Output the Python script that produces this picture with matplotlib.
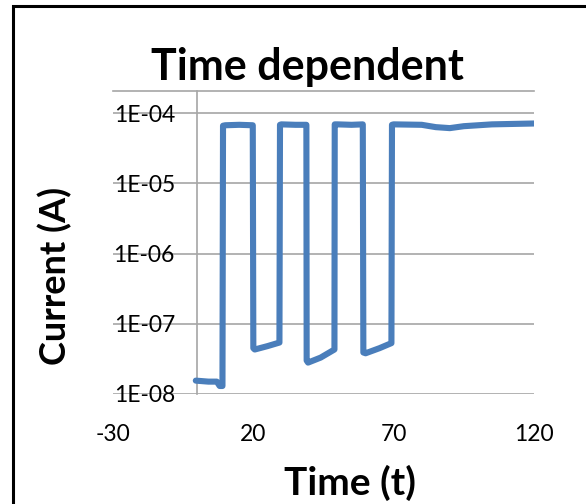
import matplotlib
matplotlib.use("Agg")
import matplotlib.pyplot as plt
from matplotlib.patches import Rectangle
from matplotlib.ticker import FixedLocator, NullLocator

plt.rcParams['font.family'] = ['Lato', 'DejaVu Sans']
plt.rcParams['axes.unicode_minus'] = False

# --- data ---
time_s = [-0.5, 4, 7, 8, 9, 9.2, 10, 15, 19.8, 20, 20.5, 25, 29.3, 29.5, 30, 35, 38.9, 39, 39.5, 44,
          48.9, 49, 50, 55, 59, 59.2, 60, 65, 69.2, 69.4, 70, 80, 85, 90, 95, 105, 120]
current_a = [1.55e-8, 1.5e-8, 1.5e-8, 1.3e-8, 1.3e-8, 6.6e-5, 6.7e-5, 6.8e-5, 6.7e-5, 4.5e-8, 4.3e-8, 4.8e-8,
             5.4e-8, 6.8e-5, 6.9e-5, 6.8e-5, 6.8e-5, 3.0e-8, 2.8e-8, 3.3e-8,
             4.3e-8, 6.9e-5, 6.9e-5, 6.8e-5, 6.9e-5, 3.9e-8, 3.8e-8, 4.5e-8, 5.3e-8, 6.8e-5, 6.9e-5, 6.8e-5,
             6.3e-5, 6.1e-5, 6.5e-5, 6.9e-5, 7.1e-5]

y_ticks = [1e-8, 1e-7, 1e-6, 1e-5, 1e-4]
y_tick_labels = ['1E-08', '1E-07', '1E-06', '1E-05', '1E-04']
x_ticks = [-30, 20, 70, 120]

grid_col = '#a6a6a6'

fig = plt.figure(figsize=(5.86, 5.04), dpi=100)
ax = fig.add_axes([113 / 586, 1 - 394 / 504, 421 / 586, 303 / 504])

ax.plot(time_s, current_a, color='#4a7ebb', lw=4.4, solid_joinstyle='round', solid_capstyle='round', zorder=3)

ax.set_yscale('log')
ax.set_xlim(-30, 120)
ax.set_ylim(1e-8, 2.06e-4)
ax.yaxis.set_major_locator(FixedLocator(y_ticks))
ax.yaxis.set_minor_locator(NullLocator())
ax.set_yticklabels(y_tick_labels)
ax.set_xticks(x_ticks)

ax.grid(axis='y', color=grid_col, lw=1.2)
ax.grid(axis='x', visible=False)

# y axis crosses at t = 0, as in Excel
ax.spines['left'].set_position(('data', 0))
ax.spines['left'].set_color(grid_col)
ax.spines['left'].set_linewidth(1.2)
ax.spines['top'].set_color(grid_col)
ax.spines['top'].set_linewidth(1.2)
ax.spines['right'].set_visible(False)
ax.spines['bottom'].set_visible(False)

ax.tick_params(axis='y', length=0, pad=16, labelsize=16.5)
ax.tick_params(axis='x', length=0, pad=21.5, labelsize=16.5)

ax.set_ylabel('Current (A)', fontsize=26, fontweight='bold', va='center')
ax.yaxis.set_label_coords(-0.138, 0.388)
ax.set_xlabel('Time (t)', fontsize=28, fontweight='bold', va='baseline')
ax.xaxis.set_label_coords(0.562, -0.333)

fig.text(307 / 586, 1 - 80 / 504, 'Time dependent', ha='center', va='baseline',
         fontsize=31, fontweight='bold')

# black frame round the chart (left and top edges show)
fig.patches.append(Rectangle((13 / 586, -0.2), 1.2, 1.2 - 5.5 / 504, transform=fig.transFigure,
                             fill=False, edgecolor='black', lw=2.2, clip_on=False))

plt.savefig('out.png', dpi=100)
